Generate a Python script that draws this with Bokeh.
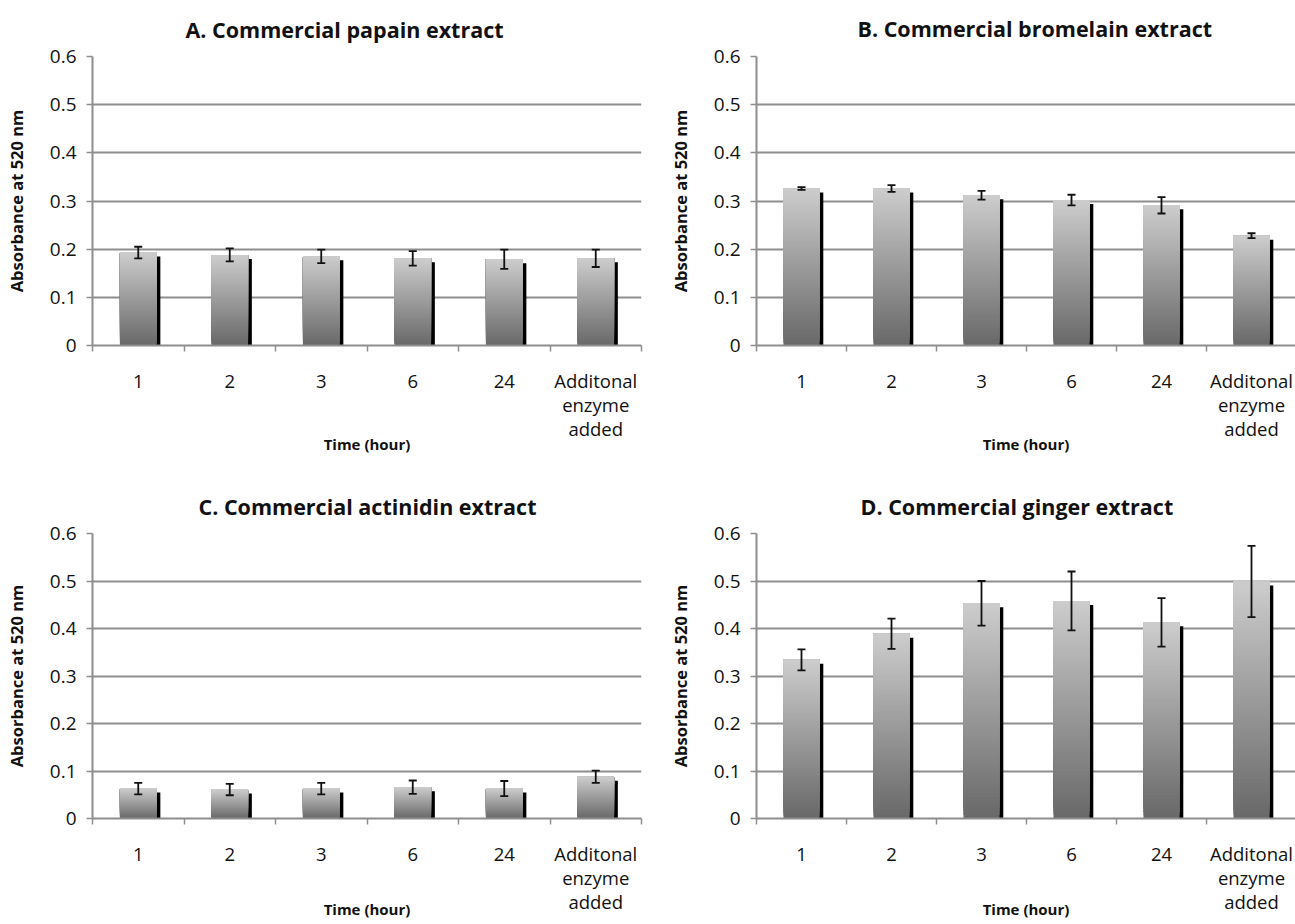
from bokeh.plotting import figure
from bokeh.layouts import row, column
from bokeh.models import Range1d, FixedTicker, ColumnDataSource, Whisker, TeeHead, Title
from bokeh.embed import file_html
from bokeh.resources import INLINE

# ---------------- data ----------------
CATEGORIES = ["1", "2", "3", "6", "24", "Additonal\nenzyme\nadded"]
Y_TICKS = [0, 0.1, 0.2, 0.3, 0.4, 0.5, 0.6]
X_LABEL = "Time (hour)"
Y_LABEL = "Absorbance at 520 nm"

TITLE_A = "A. Commercial papain extract"
PAPAIN = [0.193, 0.188, 0.185, 0.181, 0.179, 0.181]
PAPAIN_ERR = [0.012, 0.0135, 0.014, 0.015, 0.020, 0.018]

TITLE_B = "B. Commercial bromelain extract"
BROMELAIN = [0.326, 0.326, 0.312, 0.302, 0.291, 0.228]
BROMELAIN_ERR = [0.003, 0.007, 0.009, 0.011, 0.017, 0.005]

TITLE_C = "C. Commercial actinidin extract"
ACTINIDIN = [0.063, 0.061, 0.063, 0.066, 0.063, 0.088]
ACTINIDIN_ERR = [0.012, 0.012, 0.012, 0.014, 0.016, 0.013]

TITLE_D = "D. Commercial ginger extract"
GINGER = [0.334, 0.389, 0.453, 0.458, 0.413, 0.499]
GINGER_ERR = [0.022, 0.032, 0.047, 0.062, 0.051, 0.075]

FONT = "Open Sans"
GRID = "#8e8e8e"
N_SLICES = 60
TOP_GREY = 205
BOTTOM_GREY = 104


def grey(v):
    v = int(round(v))
    return "#%02x%02x%02x" % (v, v, v)


def make_panel(title, values, errors, width, height, bl, br, bt, bb,
               title_dx, title_standoff, xlabel_standoff, cat_px):
    n = len(CATEGORIES)
    frame_w = width - bl - br
    frame_h = height - bt - bb
    x_end = min(n, frame_w / cat_px)
    p = figure(width=width, height=height, output_backend="svg",
               toolbar_location=None, x_range=Range1d(0, x_end),
               y_range=Range1d(0, 0.6), min_border_left=bl,
               min_border_right=br, min_border_top=bt, min_border_bottom=bb)
    p.outline_line_color = None
    p.background_fill_color = "white"
    p.border_fill_color = "white"

    p.title = Title(text=title, text_font=FONT, text_font_size="21.5px",
                    text_font_style="bold", text_color="#111111", align="left",
                    vertical_align="top", offset=title_dx,
                    standoff=title_standoff)

    xs = [i + 0.5 for i in range(n)]
    px_per_unit = frame_h / 0.6
    dy = 4.0 / px_per_unit
    dx = 3.8 / cat_px

    # shadow
    p.vbar(x=[x + dx for x in xs], width=0.4, bottom=0,
           top=[v - dy for v in values], fill_color="black", line_color=None)

    # gradient bars: each slice runs from its own bottom up to the bar top,
    # drawn bottom-first so lighter slices cover the upper part
    sx, sb, st, sc = [], [], [], []
    for x, v in zip(xs, values):
        for k in range(N_SLICES):
            sx.append(x)
            sb.append(v * k / N_SLICES)
            st.append(v)
            sc.append(grey(BOTTOM_GREY + (TOP_GREY - BOTTOM_GREY) * (k + 0.5) / N_SLICES))
    order = sorted(range(len(sx)), key=lambda i: sb[i] / max(st[i], 1e-9))
    src = ColumnDataSource(dict(x=[sx[i] for i in order],
                                bottom=[sb[i] for i in order],
                                top=[st[i] for i in order],
                                color=[sc[i] for i in order]))
    p.vbar(x="x", width=0.4, bottom="bottom", top="top", fill_color="color",
           line_color=None, source=src)

    # error bars
    esrc = ColumnDataSource(dict(base=xs,
                                 upper=[v + e for v, e in zip(values, errors)],
                                 lower=[v - e for v, e in zip(values, errors)]))
    w = Whisker(source=esrc, base="base", upper="upper", lower="lower",
                dimension="height", line_color="#111111", line_width=1.8,
                level="overlay",
                upper_head=TeeHead(size=8, line_color="#111111", line_width=1.8),
                lower_head=TeeHead(size=8, line_color="#111111", line_width=1.8))
    p.add_layout(w)

    # x axis
    xa = p.xaxis[0]
    xa.ticker = FixedTicker(ticks=xs, minor_ticks=list(range(n + 1)))
    xa.major_label_overrides = {x: lab for x, lab in zip(xs, CATEGORIES)}
    xa.major_tick_out = 0
    xa.major_tick_in = 0
    xa.minor_tick_out = 6
    xa.minor_tick_in = 0
    xa.minor_tick_line_color = GRID
    xa.minor_tick_line_width = 1.5
    xa.axis_line_color = GRID
    xa.axis_line_width = 2
    xa.major_label_text_font = FONT
    xa.major_label_text_font_size = "18.5px"
    xa.major_label_text_line_height = 0.97
    xa.major_label_text_color = "#111111"
    xa.major_label_standoff = 16
    xa.axis_label = X_LABEL
    xa.axis_label_text_font = FONT
    xa.axis_label_text_font_size = "15px"
    xa.axis_label_text_font_style = "bold"
    xa.axis_label_text_color = "#111111"
    xa.axis_label_standoff = xlabel_standoff

    # y axis
    ya = p.yaxis[0]
    ya.ticker = FixedTicker(ticks=Y_TICKS)
    ya.major_label_overrides = {0: "0"}
    ya.major_tick_out = 6
    ya.major_tick_in = 0
    ya.minor_tick_out = 0
    ya.minor_tick_in = 0
    ya.major_tick_line_color = GRID
    ya.major_tick_line_width = 1.5
    ya.axis_line_color = GRID
    ya.axis_line_width = 2
    ya.major_label_text_font = FONT
    ya.major_label_text_font_size = "19px"
    ya.major_label_text_color = "#111111"
    ya.major_label_standoff = 10
    ya.axis_label = Y_LABEL
    ya.axis_label_text_font = FONT
    ya.axis_label_text_font_size = "16.5px"
    ya.axis_label_text_font_style = "bold"
    ya.axis_label_text_color = "#111111"
    ya.axis_label_standoff = 19

    p.xgrid.visible = False
    p.ygrid.grid_line_color = GRID
    p.ygrid.grid_line_width = 2
    return p


pA = make_panel(TITLE_A, PAPAIN, PAPAIN_ERR, 648, 460, 92, 7, 54, 115,
                93, 21, -10, 91.5)
pB = make_panel(TITLE_B, BROMELAIN, BROMELAIN_ERR, 647, 460, 108, 0, 56, 115,
                101, 23, -10, 90.0)
pC = make_panel(TITLE_C, ACTINIDIN, ACTINIDIN_ERR, 648, 464, 92, 7, 73, 106,
                106, 22, -18, 91.5)
pD = make_panel(TITLE_D, GINGER, GINGER_ERR, 647, 464, 108, 0, 73, 106,
                104, 22, -18, 90.0)

layout = column(row(pA, pB, spacing=0), row(pC, pD, spacing=0), spacing=0)

with open("out.html", "w") as f:
    f.write(file_html(layout, INLINE))
